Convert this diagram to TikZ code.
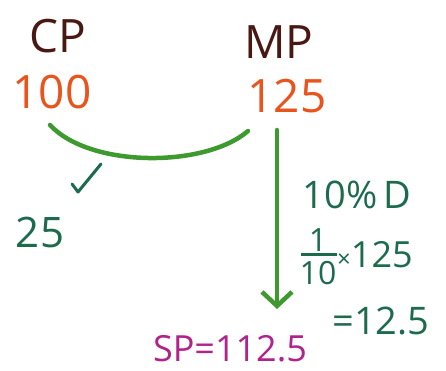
\documentclass[tikz,border=0pt]{standalone}
\usepackage{fontspec}
\setmainfont{Open Sans}
\usetikzlibrary{arrows.meta}
\definecolor{cpcol}{HTML}{4A1812}
\definecolor{numcol}{HTML}{E8541C}
\definecolor{arccol}{HTML}{3E9A2E}
\definecolor{tealcol}{HTML}{1C6B4C}
\definecolor{sppink}{HTML}{B0228C}
\tikzset{
  lbl/.style={inner sep=0pt, text=cpcol, font=\fontsize{46}{46}\selectfont},
  num/.style={inner sep=0pt, text=numcol, font=\fontsize{46}{46}\selectfont},
  calc/.style={inner sep=0pt, text=tealcol, font=\fontsize{38}{38}\selectfont},
  green/.style={draw=arccol, line width=4.5pt, line cap=round},
}
\begin{document}
\begin{tikzpicture}[x=1pt,y=-1pt]
\useasboundingbox[fill=white] (0,0) rectangle (446,371);
\node[lbl] (cp) at (58,36) {CP};
\node[lbl] (mp) at (279,42) {MP};
\node[num] (cpv) at (52,92) {100};
\node[num] (mpv) at (287,96) {125};
\coordinate (arcs) at (50,125);
\coordinate (arce) at (248,131);
\draw[green] (arcs) .. controls (90,168) and (205,168) .. (arce);
\coordinate (arrs) at (277,130);
\coordinate (arre) at (277,309);
\draw[green, -{Straight Barb[length=14pt,width=30pt,line width=4.5pt]}] (arrs) -- (arre);
\draw[draw=tealcol, line width=3pt, line cap=round, line join=round] (72,184) -- (78,192) -- (101,164);
\node[calc, font=\fontsize{42}{42}\selectfont] (prof) at (40,232) {25};
\node[calc] (disc) at (357,195) {10\%\,D};
\node[calc, font=\fontsize{32}{32}\selectfont] (one) at (318,240) {1};
\draw[draw=tealcol, line width=3pt] (301,254) -- (337,254);
\node[calc, font=\fontsize{32}{32}\selectfont] (ten) at (318,273) {10};
\node[calc, font=\fontsize{36}{36}\selectfont, anchor=west] (mul) at (337,255) {{\fontsize{24}{24}\selectfont ×}125};
\node[calc] (res) at (381,321) {=12.5};
\node[inner sep=0pt, text=sppink, font=\fontsize{36}{36}\selectfont] (sp) at (230,349) {SP=112.5};
\end{tikzpicture}
\end{document}
